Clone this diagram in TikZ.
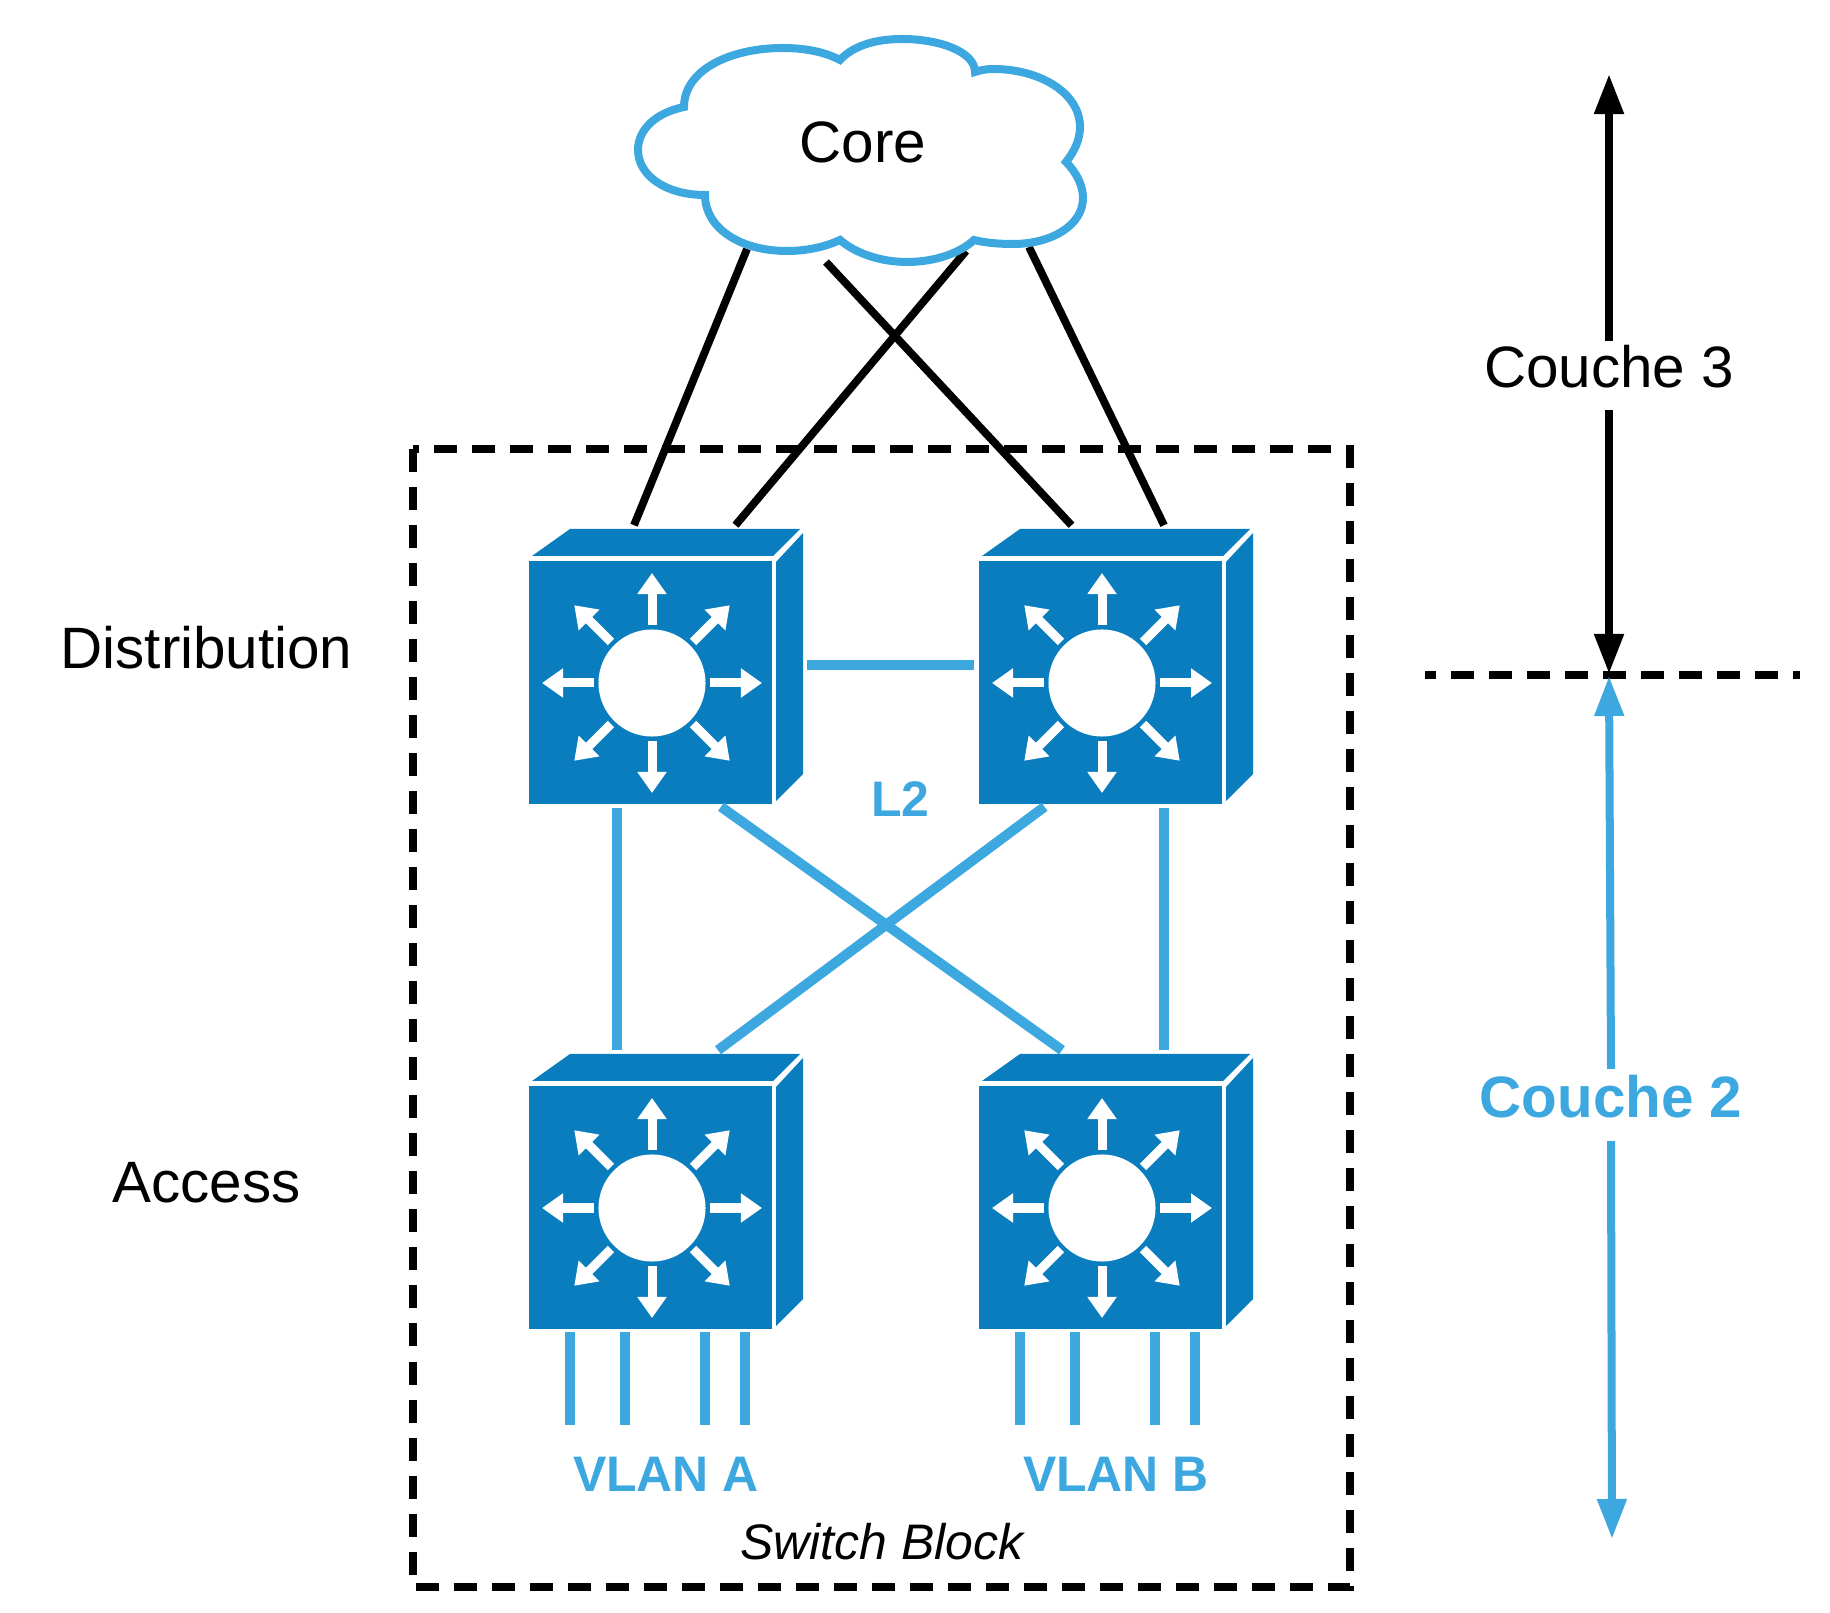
\documentclass[tikz,border=0pt]{standalone}
\usepackage{fontspec}
\setmainfont{Liberation Sans}
\usepackage{xcolor}
\usetikzlibrary{arrows.meta}
\definecolor{swblue}{HTML}{0A7DBE}
\definecolor{linkblue}{HTML}{3DA7E0}

\begin{document}
\begin{tikzpicture}[x=0.01cm, y=-0.01cm,
        face/.style={fill=swblue, draw=none},
        swarrow/.style={white, line width=0.09cm, -{Triangle[length=0.21cm,width=0.28cm]}},
        blacklink/.style={black, line width=0.078cm},
        bluelink/.style={linkblue, line width=0.1cm},
        blockline/.style={black, line width=0.078cm, dash pattern=on 0.23cm off 0.15cm},
        layerarrow/.style={line width=0.08cm, -{Triangle[length=0.4cm,width=0.28cm]}},
        biglabel/.style={font=\fontsize{16.6}{20}\selectfont, inner sep=0pt},
        vlanlabel/.style={text=linkblue, font=\fontsize{14.2}{17}\selectfont\bfseries, inner sep=0pt},
        pics/switch/.style={code={
            \fill[swblue] (-120,-127) -- (-82,-154) -- (148,-154) -- (121,-127) -- cycle;
            \fill[swblue] (124,-121) -- (151,-150) -- (151,91) -- (124,118) -- cycle;
            \node[face, inner sep=0pt, minimum width=2.43cm, minimum height=2.43cm] (-f) at (-1.5,-0.5) {};
            \fill[white] (0,0) circle (0.535cm);
            \foreach \a in {0,45,...,315}
                \draw[swarrow, rotate=\a] (58,0) -- (110,0);
        }}]
        \useasboundingbox (0,0) rectangle (1830,1613);

        % Switch block
        \draw[blockline] (413,449) rectangle (1350,1587);
        \node[vlanlabel, font=\fontsize{14.2}{17}\selectfont\itshape, text=black] (block) at (882,1542) {Switch Block};

        % Switches
        \pic (distL) at (652,683) {switch};
        \pic (distR) at (1102,683) {switch};
        \pic (accL) at (652,1208) {switch};
        \pic (accR) at (1102,1208) {switch};

        % Core links
        \coordinate (coreA) at (747,249);
        \coordinate (coreB) at (966,251);
        \coordinate (coreC) at (826,262);
        \coordinate (coreD) at (1029,247);
        \draw[blacklink] (coreA) -- ([shift={(-16.5,-35)}]distL-f.north);
        \draw[blacklink] (coreB) -- ([shift={(85,-35)}]distL-f.north);
        \draw[blacklink] (coreC) -- ([shift={(-29,-35)}]distR-f.north);
        \draw[blacklink] (coreD) -- ([shift={(63.5,-35)}]distR-f.north);

        % Core cloud
        \draw[linkblue, fill=white, line width=0.08cm] (705,195)
            .. controls (665,195) and (638,175) .. (638,150)
            .. controls (638,130) and (655,113) .. (684,107)
            .. controls (684,70) and (730,48) .. (783,48)
            .. controls (805,48) and (825,52) .. (840,60)
            .. controls (853,46) and (875,39) .. (902,39)
            .. controls (940,39) and (975,52) .. (975,72)
            .. controls (981,70) and (987,69) .. (993,69)
            .. controls (1040,69) and (1080,93) .. (1080,127)
            .. controls (1080,140) and (1074,152) .. (1066,162)
            .. controls (1076,172) and (1083,185) .. (1083,198)
            .. controls (1083,225) and (1052,244) .. (1013,244)
            .. controls (1000,244) and (986,243) .. (974,240)
            .. controls (960,253) and (935,262) .. (907,262)
            .. controls (880,262) and (855,253) .. (840,240)
            .. controls (825,247) and (806,251) .. (787,251)
            .. controls (740,251) and (705,228) .. (705,195) -- cycle;
        \node[biglabel, anchor=base] (core) at (863,163) {Core};

        % L2 links
        \draw[bluelink] ([shift={(34,-17)}]distL-f.east) -- ([shift={(-4,-17)}]distR-f.west);
        \draw[bluelink] ([shift={(-34,3)}]distL-f.south) -- ([shift={(-34,-35)}]accL-f.north);
        \draw[bluelink] ([shift={(63.5,3)}]distR-f.south) -- ([shift={(63.5,-35)}]accR-f.north);
        \draw[bluelink] ([shift={(70.5,2)}]distL-f.south) -- ([shift={(-38.5,-35)}]accR-f.north);
        \draw[bluelink] ([shift={(-56,2)}]distR-f.south) -- ([shift={(67.5,-35)}]accL-f.north);
        \node[vlanlabel] (ltwo) at (900.5,799) {L2};

        % VLAN ports
        \foreach \o in {-80.5,-25.5,54,94} {
            \draw[bluelink] ([shift={(\o,2)}]accL-f.south) -- ++(0,93);
            \draw[bluelink] ([shift={(\o,2)}]accR-f.south) -- ++(0,93);
        }
        \node[vlanlabel] (vlanA) at (666,1474) {VLAN A};
        \node[vlanlabel] (vlanB) at (1116,1474) {VLAN B};

        % Layer names
        \node[biglabel] (distrib) at (206.5,648) {Distribution};
        \node[biglabel] (access) at (206.5,1183) {Access};

        % Couche 3 / Couche 2
        \coordinate (c3top) at (1609,74);
        \coordinate (c3tip) at (1609,674);
        \coordinate (c2tip) at (1609,676);
        \coordinate (c2end) at (1612,1539);
        \coordinate (sepL) at (1425,675);
        \coordinate (sepR) at (1800,675);
        \node[biglabel, text height=0.46cm, text depth=0.22cm] (couche3) at (1609,375.5) {Couche 3};
        \node[biglabel, text=linkblue, text height=0.48cm, text depth=0.23cm] (couche2) at (1611,1105) {\bfseries Couche 2};
        \draw[blockline, line width=0.08cm, dash phase=0.12cm] (sepL) -- (sepR);
        \draw[layerarrow, black] (couche3.north -| c3top) -- (c3top);
        \draw[layerarrow, black] (couche3.south -| c3tip) -- (c3tip);
        \draw[layerarrow, linkblue] (couche2.north) -- (c2tip);
        \draw[layerarrow, linkblue] (couche2.south) -- (c2end);
    \end{tikzpicture}
\end{document}
